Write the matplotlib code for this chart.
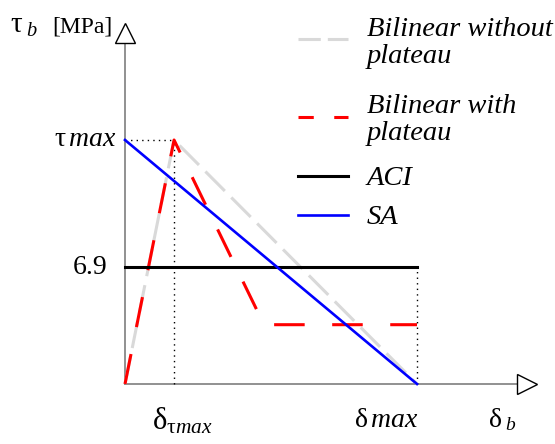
import matplotlib
matplotlib.use("Agg")
import matplotlib.pyplot as plt

plt.rcParams["font.family"] = ["Liberation Serif", "DejaVu Serif"]
plt.rcParams["mathtext.fontset"] = "custom"
plt.rcParams["mathtext.rm"] = "Liberation Serif"
plt.rcParams["mathtext.it"] = "Liberation Serif:italic"

# values (schematic, delta normalised to delta_max)
d_tmax = 0.168
d_max = 1.0
tau_max = 14.4
tau_aci = 6.9
tau_res = 3.5
d_res = 0.476

bw_x = [0, d_tmax, d_max]
bw_y = [0, tau_max, 0]
bp_x = [0, d_tmax, d_res, d_max]
bp_y = [0, tau_max, tau_res, tau_res]
aci_x = [0, d_max]
aci_y = [tau_aci, tau_aci]
sa_x = [0, d_max]
sa_y = [tau_max, 0]

labels = ["Bilinear without\nplateau", "Bilinear with\nplateau", "ACI", "SA"]

styles = [
    dict(color="#d9d9d9", lw=2.2, ls=(0, (9, 3)), zorder=2),
    dict(color="#ff0000", lw=2.2, ls=(0, (10, 9)), zorder=3),
    dict(color="black", lw=2.2, ls="-", zorder=3),
    dict(color="#0000ff", lw=1.9, ls="-", zorder=4),
]
legend_ls = [(0, (7.3, 2.3)), (0, (5, 6.7)), "-", "-"]

W, H = 555, 444
fig = plt.figure(figsize=(W / 100, H / 100), dpi=100)
ax = fig.add_axes([0, 0, 1, 1])
ax.axis("off")

# pixel frame: origin at (125, 384), d_max at x=417, tau_max at y=140
ox, oy = 125, 384
sx = (417 - ox) / d_max
sy = (oy - 140) / tau_max
ax.set_xlim(-ox / sx, (W - ox) / sx)
ax.set_ylim(-(H - oy) / sy, oy / sy)

x_end = (527 - ox) / sx
y_end = (oy - 33) / sy

# axes with open arrow heads
ax.plot([0, x_end], [0, 0], color="#888888", lw=1.3, zorder=1)
ax.plot([0, 0], [0, y_end], color="#888888", lw=1.3, zorder=1)
ax.plot([x_end], [0], marker=">", ms=14, mfc="white", mec="black", mew=1, zorder=5)
ax.plot([0], [y_end], marker="^", ms=14, mfc="white", mec="black", mew=1, zorder=5)

# guide lines
ax.plot([0, d_tmax], [tau_max, tau_max], color="black", lw=1, ls=(0, (1, 3)), zorder=1)
ax.plot([d_tmax, d_tmax], [0, tau_max], color="black", lw=1, ls=(0, (1, 3)), zorder=1)
ax.plot([d_max, d_max], [0, tau_aci], color="black", lw=1, ls=(0, (1, 3)), zorder=1)

series = [(bw_x, bw_y), (bp_x, bp_y), (aci_x, aci_y), (sa_x, sa_y)]
for (xs, ys), st in zip(series, styles):
    ax.plot(xs, ys, **st)

# legend drawn by hand: handle centred on the text block
handle_y = [39, 117, 176, 215]
last_baseline = [63, 140, 185, 224]
for lab, st, lls, hy, by in zip(labels, styles, legend_ls, handle_y, last_baseline):
    ax.plot([298 / W, 348 / W], [1 - hy / H] * 2, transform=fig.transFigure,
            clip_on=False, color=st["color"], lw=st["lw"], ls=lls)
    fig.text(367 / W, 1 - by / H, lab, ha="left", va="baseline", style="italic",
             fontsize=20.5, linespacing=1.1)

# axis texts
fs = 20
ax.text(-8 / sx, tau_max, r"$\mathrm{\tau}\,\mathit{max}$", ha="right", va="center", fontsize=fs)
ax.text(-18 / sx, tau_aci, "6.9", ha="right", va="center", fontsize=fs)
fig.text(10 / W, 1 - 26 / H, r"$\mathrm{\tau}_{\ \mathit{b}}$", ha="left", va="center", fontsize=21)
fig.text(112 / W, 1 - 27 / H, "[MPa]", ha="right", va="center", fontsize=17)
ax.text((152 - ox) / sx, -(421 - oy) / sy, r"$\mathrm{\delta}_{\mathrm{\tau}\mathit{max}}$",
        ha="left", va="center", fontsize=22)
ax.text(d_max + 1 / sx, -(420 - oy) / sy, r"$\mathrm{\delta}\,\mathit{max}$", ha="right", va="center", fontsize=fs)
ax.text((503 - ox) / sx, -(420 - oy) / sy, r"$\mathrm{\delta}_{\ \mathit{b}}$", ha="center", va="center", fontsize=fs)

fig.savefig("out.png", dpi=100)
